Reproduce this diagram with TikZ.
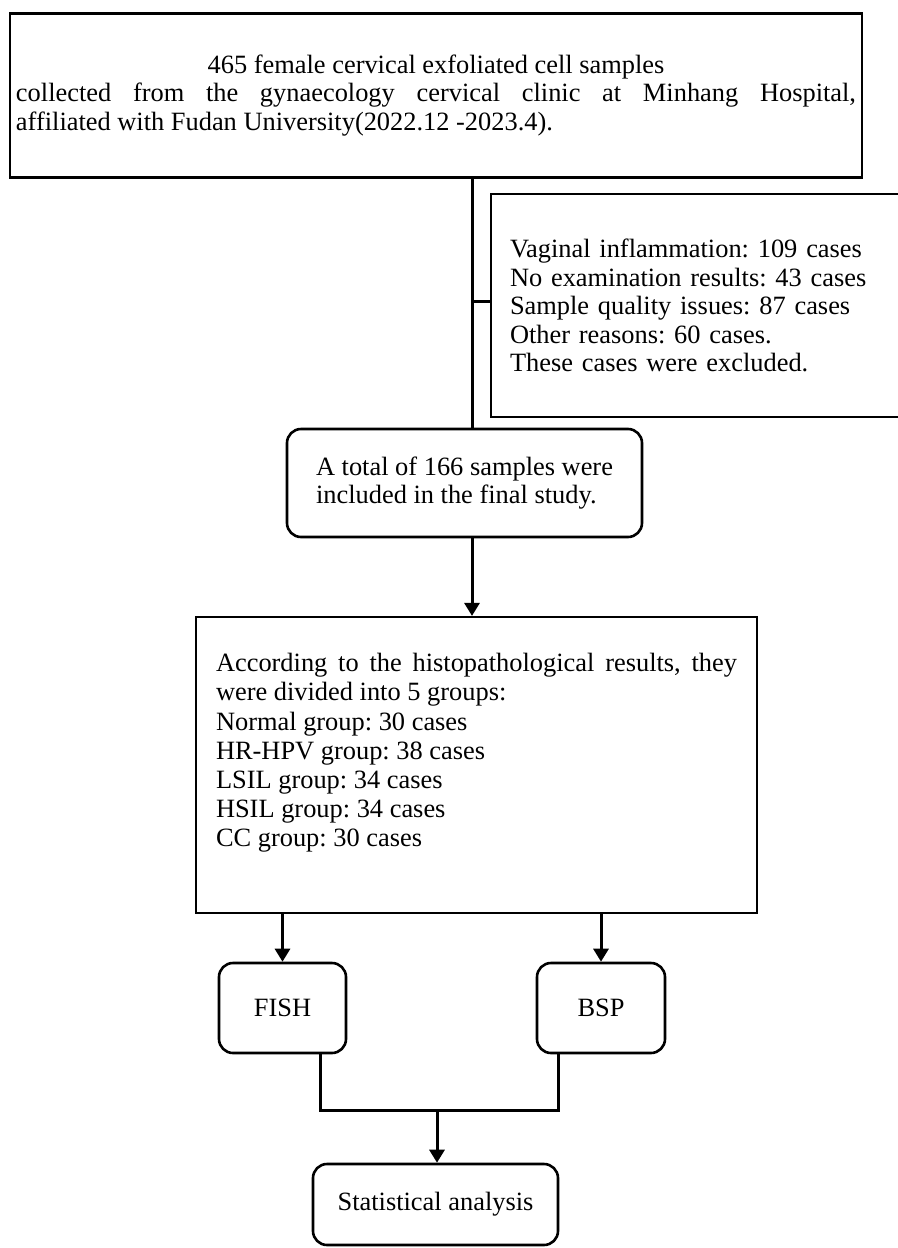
\documentclass[tikz,border=0pt]{standalone}
\usepackage{fontspec}
\setmainfont{Liberation Serif}
\usetikzlibrary{arrows.meta,positioning}
\frenchspacing

\begin{document}
\begin{tikzpicture}[
  x=0.5pt, y=-0.5pt,
  box/.style={rectangle, draw, line width=1.1pt, inner sep=0pt, align=left,
              font=\frenchspacing\fontsize{13.2pt}{14.2pt}\selectfont},
  rbox/.style={box, rounded corners=7pt, line width=1.3pt},
  link/.style={line width=1.5pt},
  arrow/.style={link, -{Triangle[length=6.5pt, width=7.5pt]}},
]
\useasboundingbox (0,0) rectangle (898,1248);

% Row 1: sample source
\node[box, minimum width=426pt, minimum height=82pt, text width=420pt,
      align=justify] (sample) at (436,95.5)
  {\makebox[\linewidth]{465 female cervical exfoliated cell samples}\\
   collected from the gynaecology cervical clinic at Minhang Hospital,\linebreak
   affiliated with Fudan University(2022.12 -2023.4).};

% Excluded cases, cut at the right edge
\node[box, minimum width=205pt, minimum height=111.5pt, text width=186pt] (excl) at (696,305.5)
  {Vaginal inflammation: 109 cases\\
   No examination results: 43 cases\\
   Sample quality issues: 87 cases\\
   Other reasons: 60 cases.\\
   These cases were excluded.};

% Included samples
\node[rbox, minimum width=177.5pt, minimum height=54pt] (total) at (464.5,483)
  {A total of 166 samples were\\ included in the final study.};

% Groups
\node[box, minimum width=280.5pt, minimum height=148pt, text width=260.5pt,
      align=justify, font=\frenchspacing\fontsize{13.2pt}{14.6pt}\selectfont] (groups) at (476.5,765)
  {According to the histopathological results, they\linebreak
   were divided into 5 groups:\\
   Normal group: 30 cases\\
   HR-HPV group: 38 cases\\
   LSIL group: 34 cases\\
   HSIL group: 34 cases\\
   CC group: 30 cases\par\vspace{12pt}\hrule height 0pt width 0pt};

% Methods and analysis
\node[rbox, minimum width=63.5pt, minimum height=45pt] (fish) at (282.5,1008) {FISH};
\node[rbox, minimum width=64pt, minimum height=45pt] (bsp) at (601,1008) {BSP};
\node[rbox, minimum width=122.5pt, minimum height=40.5pt] (stat) at (435.5,1204.5)
  {Statistical analysis};

% Connectors
\coordinate (spine) at (472,0);
\coordinate (branch) at (472,301);
\coordinate (merge) at (437,1110);
\draw[link] (sample.south -| spine) -- (total.north -| spine);
\draw[link] (branch) -- (branch -| excl.west);
\draw[arrow] (total.south -| spine) -- (groups.north -| spine);
\draw[arrow] (groups.south -| fish.north) -- (fish.north);
\draw[arrow] (groups.south -| bsp.north) -- (bsp.north);
\draw[link] ([xshift=18.75pt]fish.south) |- (merge) -| ([xshift=-21.5pt]bsp.south);
\draw[arrow] (merge) -- (merge |- stat.north);
\end{tikzpicture}
\end{document}
